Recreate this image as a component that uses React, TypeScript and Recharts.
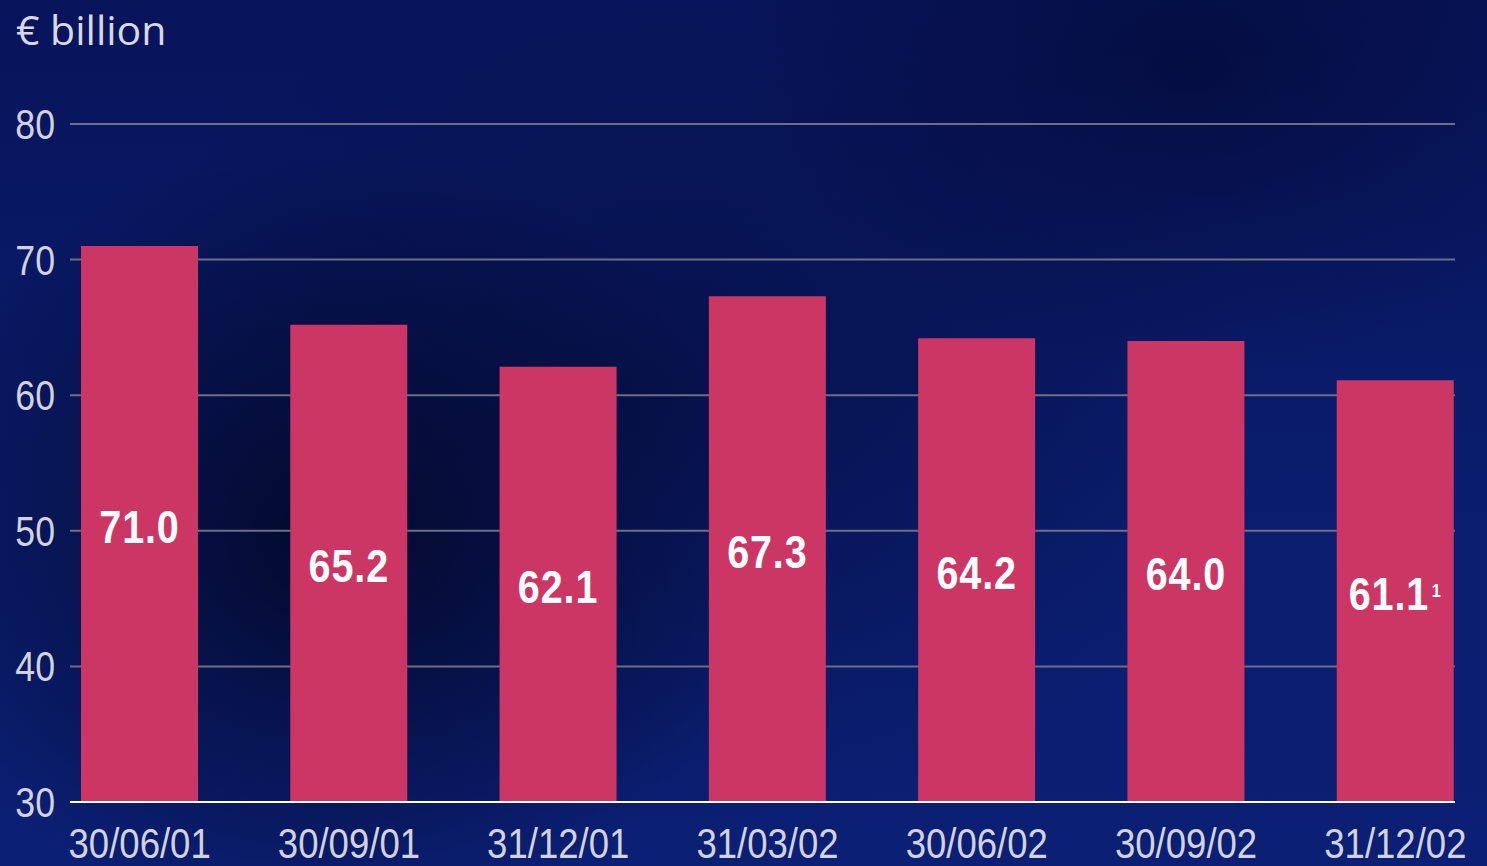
import React from 'react'
import { BarChart, Bar, XAxis, YAxis, CartesianGrid, LabelList } from 'recharts'

const dates = ['30/06/01', '30/09/01', '31/12/01', '31/03/02', '30/06/02', '30/09/02', '31/12/02']
const values = [71.0, 65.2, 62.1, 67.3, 64.2, 64.0, 61.1]
const footnotes = ['', '', '', '', '', '', '1']
const yTicks = [30, 40, 50, 60, 70, 80]

const data = dates.map((d, i) => ({ date: d, value: values[i], note: footnotes[i] }))

// no narrow font installed, so Liberation Sans gets squeezed horizontally
const sans = '"Liberation Sans", Arial, sans-serif'
const squeeze = 0.83

function BarValue(props: any) {
  const { x, y, width, height, value, index } = props
  const note = footnotes[index]
  const cx = x + width / 2
  const base = y + height / 2 + 19
  return (
    <g transform={`translate(${cx},${base}) scale(0.86,1)`}>
      <text x={0} y={0} textAnchor="middle" fill="#ffffff" fontFamily={sans} fontWeight={700} fontSize={46} letterSpacing={1}>
        {Number(value).toFixed(1)}
        {note && (
          <tspan fontSize={19} dx={3} dy={-13}>{note}</tspan>
        )}
      </text>
    </g>
  )
}

function DateTick(props: any) {
  const { x, y, payload } = props
  return (
    <g transform={`translate(${x},${y + 54}) scale(0.85,1)`}>
      <text x={0} y={0} textAnchor="middle" fill="#d2d2dc" fontFamily={sans} fontSize={43}>
        {payload.value}
      </text>
    </g>
  )
}

function ValueTick(props: any) {
  const { x, y, payload } = props
  return (
    <g transform={`translate(${x},${y + 15}) scale(${squeeze},1)`}>
      <text x={0} y={0} textAnchor="end" fill="#d2d2dc" fontFamily={sans} fontSize={43}>
        {payload.value}
      </text>
    </g>
  )
}

export default function App() {
  return (
    <div style={{
      position: 'absolute', left: 0, top: 0, width: 1487, height: 866, overflow: 'hidden',
      background: [
        'radial-gradient(ellipse 30% 45% at 22% 62%, rgba(2,6,35,0.85) 0%, rgba(2,6,35,0) 100%)',
        'radial-gradient(ellipse 30% 35% at 80% 8%, rgba(3,8,45,0.55) 0%, rgba(3,8,45,0) 100%)',
        'radial-gradient(ellipse 40% 50% at 45% 45%, rgba(4,10,50,0.5) 0%, rgba(4,10,50,0) 100%)',
        'linear-gradient(180deg, #07145a 0%, #0a1d6e 60%, #0b1f74 100%)',
      ].join(', '),
    }}>
      {/* unit caption */}
      <div style={{
        position: 'absolute', left: 16, top: 1, fontFamily: '"Open Sans", "Noto Sans", sans-serif',
        fontSize: 41, color: '#d8d8e2',
      }}>
        € billion
      </div>
      <BarChart width={1487} height={866} data={data} margin={{ top: 124, right: 32, bottom: 0, left: 0 }}>
        <CartesianGrid vertical={false} stroke="#6b6f86" strokeWidth={2} />
        <XAxis
          dataKey="date"
          height={64}
          padding={{ left: -35, right: -45 }}
          tickLine={false}
          tickSize={0}
          axisLine={{ stroke: '#ffffff', strokeWidth: 2 }}
          tick={<DateTick />}
          interval={0}
        />
        <YAxis
          width={70}
          domain={[30, 80]}
          ticks={yTicks}
          allowDataOverflow
          tickLine={false}
          axisLine={false}
          tickSize={0}
          tickMargin={15}
          tick={<ValueTick />}
        />
        <Bar dataKey="value" fill="#cc3664" barSize={117} isAnimationActive={false}>
          <LabelList dataKey="value" content={<BarValue />} />
        </Bar>
      </BarChart>
    </div>
  )
}
